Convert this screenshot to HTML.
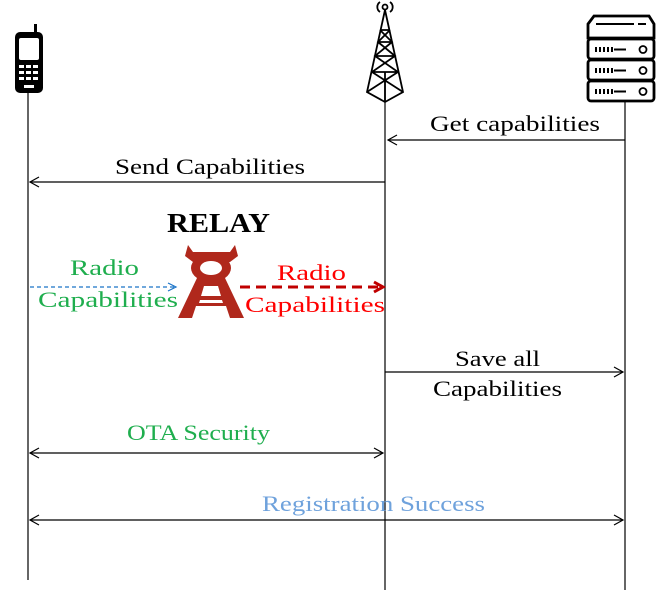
<!DOCTYPE html>
<html><head><style>
body{margin:0;background:#fff;width:668px;height:601px;overflow:hidden}
svg text{font-family:"Liberation Serif",serif;font-size:22px}
</style></head><body>
<svg width="668" height="601" viewBox="0 0 668 601" xmlns="http://www.w3.org/2000/svg">
<defs>
<marker id="a" markerWidth="12" markerHeight="12" refX="10" refY="6" orient="auto-start-reverse" markerUnits="userSpaceOnUse"><path d="M1,1 L10,6 L1,11" fill="none" stroke="#000" stroke-width="1.2"/></marker>
<marker id="b" markerWidth="12" markerHeight="12" refX="10" refY="6" orient="auto" markerUnits="userSpaceOnUse"><path d="M2,2 L10,6 L2,10" fill="none" stroke="#1a73c8" stroke-width="1.2"/></marker>
<marker id="r" markerWidth="14" markerHeight="14" refX="11" refY="7" orient="auto" markerUnits="userSpaceOnUse"><path d="M2,2 L11,7 L2,12" fill="none" stroke="#c00000" stroke-width="3"/></marker>
</defs>
<g stroke="#000" stroke-width="1.2">
<line x1="28" y1="75" x2="28" y2="580"/>
<line x1="385" y1="80" x2="385" y2="590"/>
<line x1="625" y1="100" x2="625" y2="590"/>
</g>
<!-- phone -->
<rect x="15" y="32" width="28" height="61" rx="5" fill="#000"/>
<rect x="34" y="24" width="3" height="10" fill="#000"/>
<rect x="19" y="38" width="20" height="22" rx="2" fill="#fff"/>
<g fill="#fff"><rect x="19" y="65" width="5" height="3"/><rect x="26" y="65" width="5" height="3"/><rect x="33" y="65" width="5" height="3"/><rect x="19" y="71" width="5" height="3"/><rect x="26" y="71" width="5" height="3"/><rect x="33" y="71" width="5" height="3"/><rect x="19" y="77" width="5" height="3"/><rect x="26" y="77" width="5" height="3"/><rect x="33" y="77" width="5" height="3"/><rect x="24" y="85" width="10" height="3"/></g>
<!-- tower -->
<g stroke="#000" stroke-width="1.8" fill="none">
<circle cx="385" cy="7" r="2.5"/><path d="M380,2 A6,6 0 0 0 380,12 M390,2 A6,6 0 0 1 390,12"/>
<path d="M385,10 L367,92 L385,102 L403,92 Z"/>
<path d="M380,30 L390,30 M378,42 L392,42 M375,56 L395,56 M372,72 L398,72 M380,30 L392,42 L375,56 L398,72 M390,30 L378,42 L395,56 L372,72 M372,72 L403,92 M398,72 L367,92 M385,72 L385,102"/>
</g>
<!-- server -->
<g stroke="#000" stroke-width="2.8" fill="#fff">
<path d="M594,16 L649,16 L654,24 L654,38 L588,38 L588,24 Z"/>
<rect x="588" y="39" width="66" height="20" rx="3"/>
<rect x="588" y="60" width="66" height="20" rx="3"/>
<rect x="588" y="81" width="66" height="20" rx="3"/>
</g>
<g stroke="#000" stroke-width="2">
<line x1="596" y1="24" x2="634" y2="24"/><line x1="638" y1="24" x2="646" y2="24"/>
<path d="M596,47v5M600,47v5M604,47v5M608,47v5M612,47v5M614,49.5h12M596,68v5M600,68v5M604,68v5M608,68v5M612,68v5M614,70.5h12M596,89v5M600,89v5M604,89v5M608,89v5M612,89v5M614,91.5h12"/>
</g>
<g fill="none" stroke="#000" stroke-width="1.8"><circle cx="643" cy="49.5" r="3.5"/><circle cx="643" cy="70.5" r="3.5"/><circle cx="643" cy="91.5" r="3.5"/></g>
<!-- messages -->
<g stroke="#000" stroke-width="1.2">
<line x1="625" y1="140" x2="388" y2="140" marker-end="url(#a)"/>
<line x1="385" y1="182" x2="30" y2="182" marker-end="url(#a)"/>
<line x1="385" y1="372" x2="623" y2="372" marker-end="url(#a)"/>
<line x1="30" y1="453" x2="383" y2="453" marker-start="url(#a)" marker-end="url(#a)"/>
<line x1="30" y1="520" x2="623" y2="520" marker-start="url(#a)" marker-end="url(#a)"/>
</g>
<line x1="30" y1="287" x2="176" y2="287" stroke="#1a73c8" stroke-width="1.2" stroke-dasharray="4,3" marker-end="url(#b)"/>
<line x1="240" y1="287" x2="383" y2="287" stroke="#c00000" stroke-width="3" stroke-dasharray="10,6" marker-end="url(#r)"/>
<!-- relay icon -->
<g fill="#b0281c">
<path d="M188,245 L193,252 L230,252 L235,245 L238,256 L230,262 L193,262 L185,256 Z"/>
<ellipse cx="211" cy="268" rx="20" ry="14"/>
<path d="M197,278 L178,318 L192,318 L196,306 L226,306 L230,318 L244,318 L225,278 Z"/>
</g>
<ellipse cx="211" cy="268" rx="11" ry="7" fill="#fff"/>
<path d="M204,286 L218,286 L221,296 L201,296 Z" fill="#fff"/>
<path d="M200,300 L222,300 L223,303 L199,303 Z" fill="#fff"/>
<text x="167" y="232" font-weight="bold" style="font-size:27px" textLength="103" lengthAdjust="spacingAndGlyphs">RELAY</text>
<text x="430" y="131" textLength="170" lengthAdjust="spacingAndGlyphs">Get capabilities</text>
<text x="115" y="174" textLength="190" lengthAdjust="spacingAndGlyphs">Send Capabilities</text>
<text x="70" y="275" fill="#1fae4e" textLength="69" lengthAdjust="spacingAndGlyphs">Radio</text>
<text x="38" y="307" fill="#1fae4e" textLength="140" lengthAdjust="spacingAndGlyphs">Capabilities</text>
<text x="277" y="280" fill="#f00" textLength="69" lengthAdjust="spacingAndGlyphs">Radio</text>
<text x="245" y="312" fill="#f00" textLength="140" lengthAdjust="spacingAndGlyphs">Capabilities</text>
<text x="455" y="366" textLength="85" lengthAdjust="spacingAndGlyphs">Save all</text>
<text x="433" y="396" textLength="129" lengthAdjust="spacingAndGlyphs">Capabilities</text>
<text x="127" y="440" fill="#1fae4e" textLength="143" lengthAdjust="spacingAndGlyphs">OTA Security</text>
<text x="262" y="511" fill="#6fa2dc" textLength="223" lengthAdjust="spacingAndGlyphs">Registration Success</text>
</svg>
</body></html>
